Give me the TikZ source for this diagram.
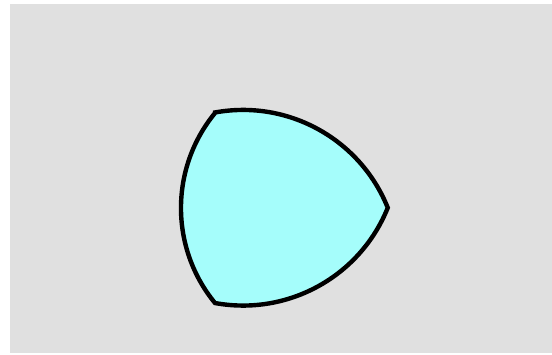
\documentclass[tikz,border=0pt]{standalone}
\definecolor{bggray}{RGB}{224,224,224}
\definecolor{shapecyan}{RGB}{165,253,251}
\tikzset{shapeline/.style={draw=black,line width=4.4pt,fill=shapecyan,line join=miter}}
\begin{document}
\begin{tikzpicture}[x=1pt,y=1pt]
\useasboundingbox (0,0) rectangle (552,355);
\fill[white] (0,0) rectangle (552,355);
\fill[bggray] (10,1.5) rectangle (552,351);
\draw[shapeline] (215,242)
  arc[start angle=140.6,end angle=219.4,radius=149.7]
  arc[start angle=-100.35,end angle=-21.9,radius=156]
  arc[start angle=21.9,end angle=100.35,radius=156]
  -- cycle;
\end{tikzpicture}
\end{document}
